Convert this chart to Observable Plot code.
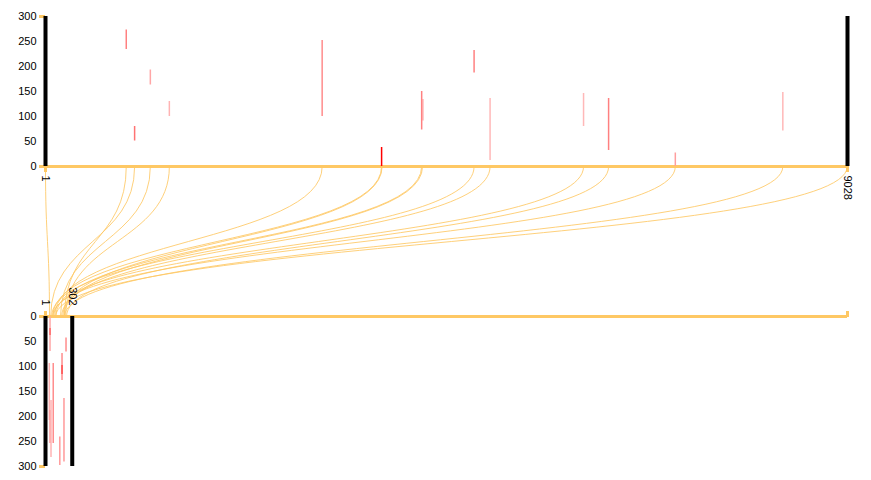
<!DOCTYPE html>
<html><head><meta charset="utf-8">
<script src="https://cdn.jsdelivr.net/npm/d3@7"></script>
<script src="https://cdn.jsdelivr.net/npm/@observablehq/plot@0.6"></script>
<style>
body{margin:0;background:#fff;}
#chart{position:relative;width:871px;height:480px;}
#chart svg{position:absolute;left:0;top:0;}
</style></head><body><div id="chart"></div>
<script>
// ---- data ----
const topLength = 9028;
const bottomLength = 302;
const yTicks = [0, 50, 100, 150, 200, 250, 300];
const topTickLabels = [1, 9028];
const bottomTickLabels = [1, 302];

// top sequence features: position, low, high, score
const topSegPos   = [910, 1004, 1181, 1395, 3115, 3784, 4235, 4248, 4825, 5005, 6057, 6339, 7090, 8300];
const topSegLo    = [234,   51,  163,  100,  100,    0,   73,   91,  187,   12,   80,   32,    0,   71];
const topSegHi    = [273,   80,  193,  130,  252,   38,  150,  134,  232,  136,  146,  136,   27,  148];
const topSegScore = [0.5, 0.55, 0.35, 0.3, 0.45, 1.0, 0.5, 0.35, 0.5, 0.28, 0.28, 0.5, 0.38, 0.28];

// bottom sequence features
const botSegPos   = [52, 52, 44, 52, 88, 63, 187, 187, 232, 209, 162];
const botSegLo    = [ 1, 24, 94, 188, 94, 168, 74, 98, 43, 164, 241];
const botSegHi    = [70, 38, 208, 254, 254, 282, 128, 116, 71, 291, 298];
const botSegScore = [0.35, 0.6, 0.3, 0.4, 0.45, 0.3, 0.45, 0.7, 0.45, 0.4, 0.4];

// links: top position -> bottom position
const linkTop    = [1, 910, 1004, 1181, 1395, 3115, 3784, 3790, 4235, 4245, 4825, 5005, 6057, 6339, 7090, 8300, 9025];
const linkBottom = [46, 215, 60, 170, 228, 105, 82, 195, 116, 206, 71, 183, 93, 238, 82, 215, 116];

// ---- build ----
const ORANGE = "#fec864";
const common = {
  width: 871, height: 480, marginLeft: 45, marginRight: 24,
  style: {background: "transparent", fontFamily: "'Liberation Sans', Arial, sans-serif", fontSize: "11px", color: "black"}
};
const colorOpt = {type: "linear", domain: [0, 1], range: ["#ffffff", "#ff0000"]};
const fmt = d => String(d);
const topSegs = topSegPos.map((p, i) => ({pos: p, lo: topSegLo[i], hi: topSegHi[i], score: topSegScore[i]}));
const botSegs = botSegPos.map((p, i) => ({pos: p, lo: botSegLo[i], hi: botSegHi[i], score: botSegScore[i]}));

const bottomPlot = Plot.plot({
  ...common, marginTop: 316, marginBottom: 14,
  x: {domain: [1, topLength], label: null},
  y: {domain: [0, 300], reverse: true, label: null},
  color: colorOpt,
  marks: [
    Plot.ruleX([{x: 1, a: 0, b: 300}], {x: "x", y1: "a", y2: "b", stroke: ORANGE, strokeWidth: 3}),
    Plot.ruleY([{y: 0, a: 1, b: topLength}], {y: "y", x1: "a", x2: "b", stroke: ORANGE, strokeWidth: 3}),
    Plot.axisY({ticks: [0, 300], tickSize: 6, stroke: ORANGE, strokeWidth: 3, tickFormat: () => "", label: null}),
    Plot.axisY({ticks: yTicks, tickSize: 0, tickPadding: 9, tickFormat: fmt, fill: "black", label: null}),
    Plot.axisX({anchor: "top", ticks: [1, topLength], tickSize: 6, stroke: ORANGE, strokeWidth: 3, tickFormat: () => "", label: null}),
    Plot.axisX({anchor: "top", ticks: bottomTickLabels, tickSize: 0, tickPadding: 11, tickRotate: 90, tickFormat: fmt, fill: "black", label: null}),
    Plot.ruleX(botSegs, {x: "pos", y1: "lo", y2: "hi", stroke: "score", strokeWidth: 1.5}),
    Plot.ruleX(bottomTickLabels.map(v => ({x: v, a: 0, b: 300})), {x: "x", y1: "a", y2: "b", stroke: "black", strokeWidth: 4})
  ]
});

function makeTop(links) {
  return Plot.plot({
    ...common, marginTop: 16, marginBottom: 314,
    x: {domain: [1, topLength], label: null},
    y: {domain: [0, 300], label: null},
    color: colorOpt,
    marks: [
      links ? Plot.link(links, {x1: "x1", y1: "y1", x2: "x2", y2: "y2", curve: "bump-y", stroke: ORANGE, strokeOpacity: 0.85, strokeWidth: 1}) : null,
      Plot.ruleX([{x: 1, a: 0, b: 300}], {x: "x", y1: "a", y2: "b", stroke: ORANGE, strokeWidth: 3}),
      Plot.ruleY([{y: 0, a: 1, b: topLength}], {y: "y", x1: "a", x2: "b", stroke: ORANGE, strokeWidth: 3}),
      Plot.axisY({ticks: [0, 300], tickSize: 6, stroke: ORANGE, strokeWidth: 3, tickFormat: () => "", label: null}),
      Plot.axisY({ticks: yTicks, tickSize: 0, tickPadding: 9, tickFormat: fmt, fill: "black", label: null}),
      Plot.axisX({ticks: topTickLabels, tickSize: 6, tickPadding: 3, tickRotate: 90, tickFormat: fmt, stroke: ORANGE, strokeWidth: 3, fill: "black", label: null}),
      Plot.ruleX(topSegs, {x: "pos", y1: "lo", y2: "hi", stroke: "score", strokeWidth: 1.5}),
      Plot.ruleX(topTickLabels.map(v => ({x: v, a: 0, b: 300})), {x: "x", y1: "a", y2: "b", stroke: "black", strokeWidth: 4})
    ].filter(Boolean)
  });
}

const probe = makeTop(null);
const endY = probe.scale("y").invert(bottomPlot.scale("y").apply(0));
const links = linkTop.map((t, i) => ({x1: t, y1: 0, x2: linkBottom[i], y2: endY}));
const topPlot = makeTop(links);

const el = document.getElementById("chart");
el.appendChild(topPlot);
el.appendChild(bottomPlot);
</script>
</body></html>
